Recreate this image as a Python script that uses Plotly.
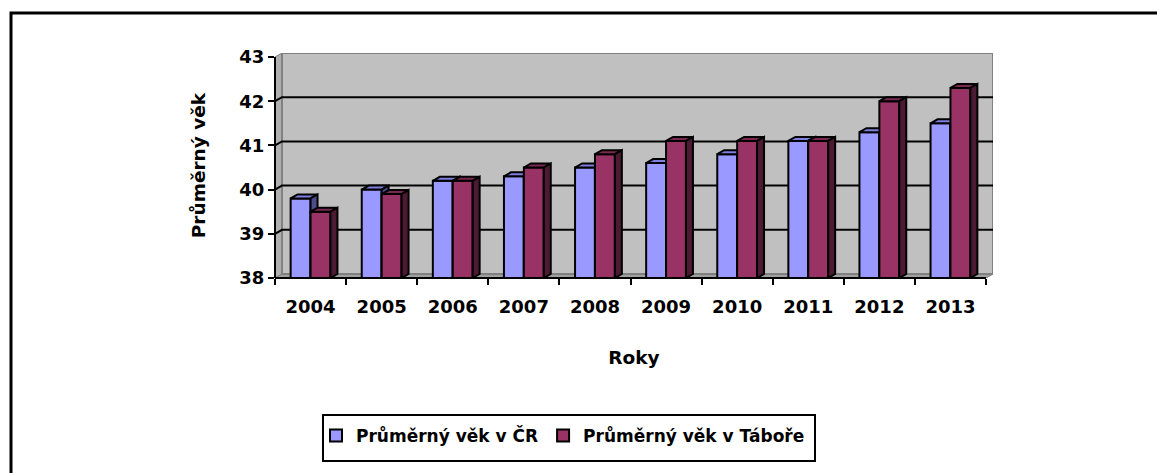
import plotly.graph_objects as go

years = ["2004", "2005", "2006", "2007", "2008", "2009", "2010", "2011", "2012", "2013"]
vek_cr = [39.8, 40.0, 40.2, 40.3, 40.5, 40.6, 40.8, 41.1, 41.3, 41.5]
vek_tabor = [39.5, 39.9, 40.2, 40.5, 40.8, 41.1, 41.1, 41.1, 42.0, 42.3]
y_ticks = [38, 39, 40, 41, 42, 43]
series_names = ["Průměrný věk v ČR", "Průměrný věk v Táboře"]

FONT = "DejaVu Sans"
W, H = 1157, 473
ML, MR, MT, MB = 275, 164, 53, 195
Y0, Y1 = 38, 43
DX, DY = 0.0983, 0.0905          # 3-D depth in data units
XR = [-0.5, len(years) - 0.5 + DX]
YR = [Y0, Y1 + DY]
BW = 0.28                          # bar width

front = ["#9999FF", "#993366"]
top_c = ["#7F7FE0", "#7A2952"]
side_c = ["#4D4D8C", "#4D1A33"]

xs = list(range(len(years)))
fig = go.Figure()

def faces(vals, off):
    tx, ty, sx, sy = [], [], [], []
    for i, v in zip(xs, vals):
        x0 = i + off
        x1 = x0 + BW
        tx += [x0, x1, x1 + DX, x0 + DX, x0, None]
        ty += [v, v, v + DY, v + DY, v, None]
        sx += [x1, x1 + DX, x1 + DX, x1, x1, None]
        sy += [v, v + DY, Y0 + DY, Y0, v, None]
    return tx, ty, sx, sy

for k, (vals, off, xa, ya) in enumerate([(vek_cr, -BW, "x", "y"), (vek_tabor, 0.0, "x2", "y2")]):
    fig.add_trace(go.Bar(
        x=xs, y=vals, name=series_names[k], width=BW, offset=off,
        marker=dict(color=front[k], line=dict(color="black", width=2)),
        xaxis=xa, yaxis=ya,
    ))
    tx, ty, sx, sy = faces(vals, off)
    fig.add_trace(go.Scatter(x=tx, y=ty, fill="toself", fillcolor=top_c[k], mode="lines",
                             line=dict(color="black", width=2), showlegend=False,
                             hoverinfo="skip", xaxis=xa, yaxis=ya))
    fig.add_trace(go.Scatter(x=sx, y=sy, fill="toself", fillcolor=side_c[k], mode="lines",
                             line=dict(color="black", width=2), showlegend=False,
                             hoverinfo="skip", xaxis=xa, yaxis=ya))

shapes = []
xl, xr = -0.5, len(years) - 0.5
# left wall
shapes.append(dict(type="path", xref="x", yref="y", layer="below",
                   path=f"M{xl},{Y0} L{xl},{Y1} L{xl+DX},{Y1+DY} L{xl+DX},{Y0+DY} Z",
                   fillcolor="#B0B0B0", line=dict(color="#808080", width=1)))
# floor
shapes.append(dict(type="path", xref="x", yref="y", layer="below",
                   path=f"M{xl},{Y0} L{xr},{Y0} L{xr+DX},{Y0+DY} L{xl+DX},{Y0+DY} Z",
                   fillcolor="#A0A0A0", line=dict(color="#808080", width=1)))
# back wall
shapes.append(dict(type="rect", xref="x", yref="y", layer="below",
                   x0=xl + DX, x1=xr + DX, y0=Y0 + DY, y1=Y1 + DY,
                   fillcolor="#C0C0C0", line=dict(color="#808080", width=2)))
# gridlines
for t in y_ticks[1:-1]:
    shapes.append(dict(type="path", xref="x", yref="y", layer="below",
                       path=f"M{xl},{t} L{xl+DX},{t+DY} L{xr+DX},{t+DY}",
                       line=dict(color="black", width=2)))
# axis lines (paper coords so they are not clipped)
px_end = (xr - XR[0]) / (XR[1] - XR[0])
py_end = (Y1 - YR[0]) / (YR[1] - YR[0])
shapes.append(dict(type="line", xref="paper", yref="paper", x0=0, x1=px_end, y0=0, y1=0,
                   line=dict(color="black", width=2), layer="above"))
shapes.append(dict(type="line", xref="paper", yref="paper", x0=0, x1=0, y0=0, y1=py_end,
                   line=dict(color="black", width=2), layer="above"))
# outer chart border (clipped by page edge on right/bottom)
pw, ph = W - ML - MR, H - MT - MB
def px(x):
    return (x - ML) / pw
def py(y):
    return (H - MB - y) / ph
shapes.append(dict(type="rect", xref="paper", yref="paper",
                   x0=px(11), x1=px(1200), y0=py(520), y1=py(13),
                   line=dict(color="black", width=3), fillcolor="rgba(0,0,0,0)", layer="below"))
# legend frame
shapes.append(dict(type="rect", xref="paper", yref="paper",
                   x0=px(323), x1=px(815), y0=py(461), y1=py(415),
                   line=dict(color="black", width=2), fillcolor="white", layer="below"))

tickfont = dict(family=FONT, size=18, color="black", weight="bold")
titlefont = dict(family=FONT, size=18.5, color="black", weight="bold")
fig.update_layout(
    width=W, height=H,
    margin=dict(l=ML, r=MR, t=MT, b=MB),
    paper_bgcolor="white", plot_bgcolor="rgba(0,0,0,0)",
    barmode="overlay",
    shapes=shapes,
    xaxis=dict(range=XR, tickvals=xs, ticktext=years, ticks="", showgrid=False, zeroline=False,
               showline=False, tickfont=tickfont, ticklabelstandoff=16,
               minor=dict(tickvals=[i - 0.5 for i in range(len(years) + 1)], ticks="outside",
                          ticklen=6, tickwidth=2, tickcolor="black", showgrid=False),
               title=dict(text="Roky", font=titlefont, standoff=35)),
    yaxis=dict(range=YR, tickvals=y_ticks, ticks="outside", ticklen=6, tickwidth=2,
               tickcolor="black", showgrid=False, zeroline=False, showline=False,
               tickfont=tickfont,
               title=dict(text="Průměrný věk", font=titlefont, standoff=28)),
    xaxis2=dict(range=XR, overlaying="x", visible=False),
    yaxis2=dict(range=YR, overlaying="y", visible=False),
    legend=dict(orientation="h", x=px(563), xanchor="center", y=py(436), yanchor="middle",
                borderwidth=0, bgcolor="rgba(0,0,0,0)",
                font=dict(family=FONT, size=17, color="black", weight="bold"),
                itemwidth=30, tracegroupgap=0),
    showlegend=True,
)

fig.write_html("out.html", post_script="document.body.style.margin='0';",
               config={"displayModeBar": False})
